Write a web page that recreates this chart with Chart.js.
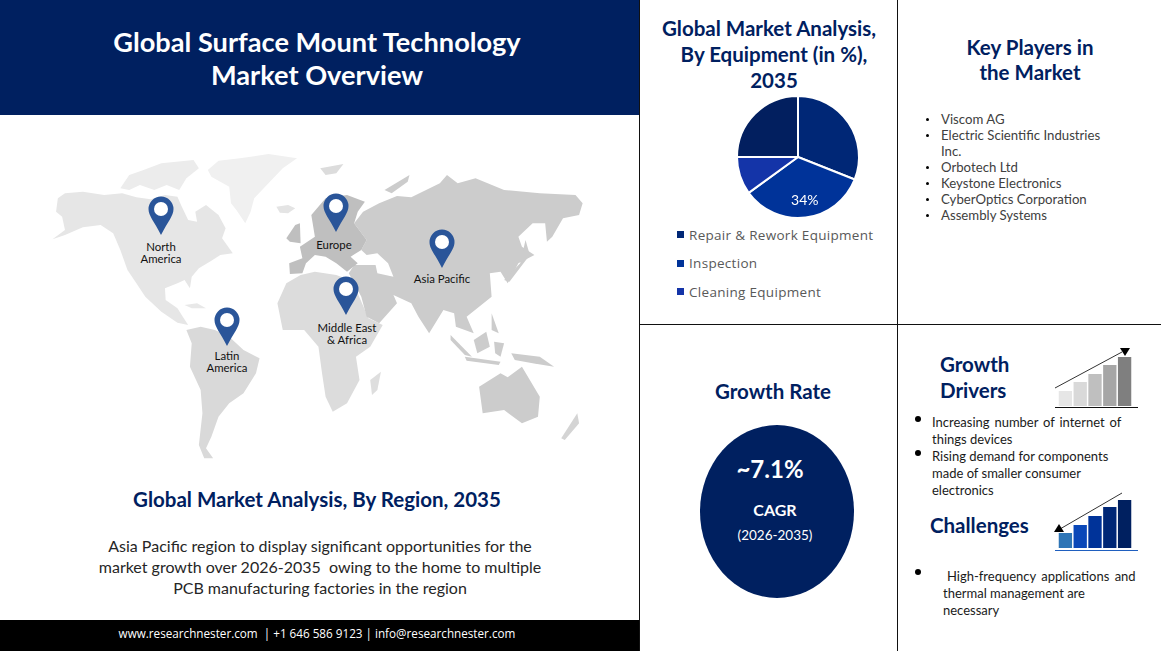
<!DOCTYPE html>
<html>
<head>
<meta charset="utf-8">
<script src="https://cdn.jsdelivr.net/npm/chart.js@4"></script>
<style>
html, body { margin: 0; padding: 0; background: #fff; }
#page { position: relative; width: 1161px; height: 651px; overflow: hidden; font-family: Lato, sans-serif; }
.box { position: absolute; }
.c, .l { position: absolute; white-space: pre; transform: translateY(-50%); margin-top: -1px; }
.c { transform: translate(-50%, -50%); text-align: center; }
.h { font-weight: 700; color: #002060; font-size: 20.5px; }
.city { font-size: 11.4px; line-height: 12px; color: #111; margin-top: 0; }
.player { font-size: 13.2px; color: #404040; margin-top: 0; }
.driver { font-size: 13px; color: #1a1a1a; margin-top: 0; }
.para { font-size: 16px; color: #262626; }
.dot { position: absolute; border-radius: 50%; background: #000; }
.sq { position: absolute; width: 7px; height: 7px; }
.leg { font-family: "Open Sans", sans-serif; font-size: 13.5px; color: #595959; letter-spacing: 0.3px; margin-top: 0; }
canvas { position: absolute; }
</style>
</head>
<body>
<div id="page">
  <div class="box" style="left:0;top:0;width:639px;height:115px;background:#002060"></div>
  <div class="box" style="left:0;top:620px;width:639px;height:31px;background:#000"></div>
  <div class="box" style="left:639px;top:0;width:1px;height:651px;background:#111"></div>
  <div class="box" style="left:897px;top:0;width:1px;height:651px;background:#111"></div>
  <div class="box" style="left:639px;top:324px;width:522px;height:1px;background:#111"></div>

  <div class="c" style="left:317px;top:42px;color:#fff;font-weight:700;font-size:27.2px">Global Surface Mount Technology</div>
  <div class="c" style="left:317px;top:75px;color:#fff;font-weight:700;font-size:27.2px">Market Overview</div>

  <svg class="box" style="left:0;top:0" width="640" height="480">
    <g transform="translate(40 140) scale(.357 .3333)">
      <polygon fill="#f0f0f0" points="470,90 500,62 560,55 640,42 720,55 680,85 640,130 600,175 590,215 575,250 550,210 535,190 530,140 480,110"/>
      <polygon fill="#ececec" points="225,145 250,105 290,90 340,70 430,60 445,85 410,115 390,150 355,135 320,150 280,135 250,150"/>
      <polygon fill="#e6e6e6" points="35,298 70,270 62,230 45,215 50,175 70,160 120,155 180,165 230,160 270,172 310,178 350,165 385,170 395,195 415,240 440,245 435,215 465,195 500,225 520,265 510,295 540,340 505,345 480,362 445,385 425,410 420,445 405,420 385,430 350,445 352,480 385,505 400,530 415,555 385,548 340,515 295,470 270,430 245,390 225,330 205,280 170,255 120,262 70,285"/>
      <polygon fill="#e4e4e4" points="662,200 695,195 715,205 695,220 672,218"/>
      <polygon fill="#dcdcdc" points="785,85 850,72 830,100 800,105"/>
      <polygon fill="#e8e8e8" points="405,495 440,490 465,505 425,505"/>
      <polygon fill="#d9d9d9" points="410,570 450,560 490,570 530,590 570,630 615,655 605,700 570,760 530,790 500,830 480,890 465,925 485,955 460,955 445,915 455,820 450,750 420,680 425,610"/>
      <polygon fill="#dcdcdc" points="665,490 690,430 730,405 770,395 830,405 880,425 890,460 920,535 960,555 925,620 885,650 895,720 860,790 820,815 800,770 790,700 780,620 740,570 680,570"/>
      <polygon fill="#dedede" points="925,720 955,695 945,750 930,765"/>
      <polygon fill="#cccccc" points="880,250 905,215 950,190 1000,168 1040,172 1120,130 1140,105 1170,130 1220,115 1300,150 1400,160 1500,165 1520,190 1510,225 1465,235 1435,290 1420,305 1415,250 1380,250 1340,290 1350,320 1385,345 1340,370 1310,430 1290,395 1260,400 1265,470 1230,500 1195,530 1215,580 1190,570 1165,560 1160,520 1130,510 1090,580 1060,530 1040,490 990,465 1000,490 950,550 915,530 900,470 880,430 865,400 880,375 940,375 945,400 990,410 975,370 945,340 915,345 900,330 915,300"/>
      <polygon fill="#bfbfbf" points="698,370 735,355 728,320 770,290 760,225 800,175 860,165 910,185 890,215 880,250 915,300 900,330 870,350 890,370 860,395 830,370 800,350 770,345 745,370 735,400 700,402"/>
      <polygon fill="#bfbfbf" points="690,295 715,255 728,250 730,310 700,305"/>
      <polygon fill="#cccccc" points="965,150 1035,105 1030,125 985,160"/>
      <polygon fill="#cccccc" points="1360,300 1372,345 1315,425 1300,420 1345,370"/>
      <polygon fill="#cccccc" points="1150,585 1210,650 1190,645 1150,600"/>
      <polygon fill="#cccccc" points="1215,600 1250,575 1260,620 1225,640"/>
      <polygon fill="#cccccc" points="1190,650 1290,665 1285,675 1195,662"/>
      <polygon fill="#cccccc" points="1265,520 1285,580 1265,570"/>
      <polygon fill="#cccccc" points="1272,605 1300,610 1290,650 1275,640"/>
      <polygon fill="#cccccc" points="1320,640 1400,650 1440,680 1380,670 1330,660"/>
      <polygon fill="#cccccc" points="1230,740 1290,700 1310,712 1350,680 1400,770 1395,830 1350,850 1300,810 1240,820"/>
      <polygon fill="#d4d4d4" points="1460,895 1505,820 1510,850 1470,900"/>
    </g>
    <defs>
      <g id="pin">
        <path fill="#2a5599" d="M0,0 C-7,-14 -12.5,-19 -12.5,-26 A12.5,12.5 0 1 1 12.5,-26 C12.5,-19 7,-14 0,0 Z"/>
        <circle cx="0" cy="-26" r="7" fill="#fff"/>
      </g>
    </defs>
    <use href="#pin" x="161" y="235"/>
    <use href="#pin" x="336" y="232"/>
    <use href="#pin" x="442" y="268"/>
    <use href="#pin" x="346" y="315"/>
    <use href="#pin" x="227" y="346"/>
  </svg>

  <div class="c city" style="left:161px;top:253px">North
America</div>
  <div class="c city" style="left:334px;top:245px">Europe</div>
  <div class="c city" style="left:442px;top:279px">Asia Pacific</div>
  <div class="c city" style="left:347px;top:334px">Middle East
&amp; Africa</div>
  <div class="c city" style="left:227px;top:362px">Latin
America</div>

  <div class="c h" style="left:317px;top:500px">Global Market Analysis, By Region, 2035</div>
  <div class="c para" style="left:320px;top:546px">Asia Pacific region to display significant opportunities for the</div>
  <div class="c para" style="left:320px;top:567px">market growth over 2026-2035  owing to the home to multiple</div>
  <div class="c para" style="left:320px;top:588px">PCB manufacturing factories in the region</div>
  <div class="c" style="left:317px;top:634px;font-family:'Open Sans',sans-serif;font-size:11.7px;color:#fff">www.researchnester.com  | +1 646 586 9123 | info@researchnester.com</div>

  <div class="c h" style="left:769px;top:29px">Global Market Analysis,</div>
  <div class="c h" style="left:774px;top:55px">By Equipment (in %),</div>
  <div class="c h" style="left:774px;top:81px">2035</div>
  <canvas id="equipmentPie" width="130" height="130" style="left:733px;top:92px"></canvas>

  <div class="sq" style="left:677px;top:231px;background:#002776"></div>
  <div class="c leg" style="left:689px;top:235px;transform:translateY(-50%)">Repair &amp; Rework Equipment</div>
  <div class="sq" style="left:677px;top:260px;background:#003399"></div>
  <div class="c leg" style="left:689px;top:263px;transform:translateY(-50%)">Inspection</div>
  <div class="sq" style="left:677px;top:288px;background:#1434a8"></div>
  <div class="c leg" style="left:689px;top:292px;transform:translateY(-50%)">Cleaning Equipment</div>

  <div class="c h" style="left:1030px;top:48px">Key Players in</div>
  <div class="c h" style="left:1030px;top:73px">the Market</div>
  <div class="dot" style="left:926px;top:118px;width:3px;height:3px"></div>
  <div class="l player" style="left:941px;top:119px">Viscom AG</div>
  <div class="dot" style="left:926px;top:134px;width:3px;height:3px"></div>
  <div class="l player" style="left:941px;top:135px">Electric Scientific Industries</div>
  <div class="l player" style="left:941px;top:151px">Inc.</div>
  <div class="dot" style="left:926px;top:166px;width:3px;height:3px"></div>
  <div class="l player" style="left:941px;top:167px">Orbotech Ltd</div>
  <div class="dot" style="left:926px;top:182px;width:3px;height:3px"></div>
  <div class="l player" style="left:941px;top:183px">Keystone Electronics</div>
  <div class="dot" style="left:926px;top:198px;width:3px;height:3px"></div>
  <div class="l player" style="left:941px;top:199px">CyberOptics Corporation</div>
  <div class="dot" style="left:926px;top:214px;width:3px;height:3px"></div>
  <div class="l player" style="left:941px;top:215px">Assembly Systems</div>

  <div class="c h" style="left:773px;top:392px">Growth Rate</div>
  <div class="box" style="left:700px;top:425px;width:154px;height:173px;border-radius:50%;background:#002060"></div>
  <div class="c" style="left:770px;top:469px;color:#fff;font-weight:700;font-size:24px">~7.1%</div>
  <div class="c" style="left:775px;top:510px;color:#fff;font-weight:700;font-size:16px">CAGR</div>
  <div class="c" style="left:775px;top:536px;color:#fff;font-size:13.5px">(2026-2035)</div>

  <div class="l h" style="left:940px;top:365px">Growth</div>
  <div class="l h" style="left:940px;top:391px">Drivers</div>
  <canvas id="growthBars" width="74" height="49" style="left:1058px;top:357px"></canvas>
  <div class="box" style="left:1055px;top:407px;width:83px;height:1px;background:#111"></div>
  <svg class="box" style="left:1050px;top:345px" width="90" height="50">
    <line x1="5" y1="43" x2="72" y2="7" stroke="#333" stroke-width="1"/>
    <polygon points="70,3 80,3 75,11" fill="#000"/>
  </svg>
  <div class="dot" style="left:915px;top:416px;width:6px;height:6px"></div>
  <div class="l driver" style="left:932px;top:422px;word-spacing:1.5px">Increasing number of internet of</div>
  <div class="l driver" style="left:932px;top:439px">things devices</div>
  <div class="dot" style="left:915px;top:450px;width:6px;height:6px"></div>
  <div class="l driver" style="left:932px;top:456px">Rising demand for components</div>
  <div class="l driver" style="left:932px;top:473px">made of smaller consumer</div>
  <div class="l driver" style="left:932px;top:490px">electronics</div>

  <div class="l h" style="left:930px;top:526px">Challenges</div>
  <canvas id="challengeBars" width="74" height="48" style="left:1058px;top:500px"></canvas>
  <div class="box" style="left:1055px;top:550px;width:83px;height:1px;background:#1f5fbf"></div>
  <svg class="box" style="left:1050px;top:488px" width="90" height="50">
    <line x1="72" y1="5" x2="10" y2="41" stroke="#333" stroke-width="1"/>
    <polygon points="4,44 14,44 9,36" fill="#000"/>
  </svg>
  <div class="dot" style="left:915px;top:569px;width:6px;height:6px"></div>
  <div class="l driver" style="left:947px;top:576px;word-spacing:2px">High-frequency applications and</div>
  <div class="l driver" style="left:943px;top:593px">thermal management are</div>
  <div class="l driver" style="left:943px;top:610px">necessary</div>
</div>

<script>
const pieLabels = ['Repair & Rework Equipment', 'Inspection', 'Cleaning Equipment', 'Other'];
const pieValues = [31, 34, 10, 25];
const pieColors = ['#002776', '#003399', '#1434a8', '#021f5f'];
const pieShownLabel = 1; // only the 34% slice carries a label

const barLabels = ['1', '2', '3', '4', '5'];
const growthValues = [15, 24, 32, 41, 49];
const growthColors = ['#e6e6e6', '#d9d9d9', '#bfbfbf', '#a6a6a6', '#7f7f7f'];
const challengeValues = [15, 23, 32, 41, 48];
const challengeColors = ['#2e75b6', '#0a47b8', '#003399', '#002776', '#002060'];

// draws the % text on one slice, chart.js has no datalabels built in
const sliceLabel = {
    id: 'sliceLabel',
    afterDatasetsDraw(chart) {
        const arc = chart.getDatasetMeta(0).data[pieShownLabel];
        const pos = arc.getCenterPoint();
        const ctx = chart.ctx;
        ctx.save();
        ctx.fillStyle = '#fff';
        ctx.font = '14px Lato, sans-serif';
        ctx.textAlign = 'center';
        ctx.textBaseline = 'middle';
        ctx.fillText(pieValues[pieShownLabel] + '%', pos.x + 3, pos.y + 13);
        ctx.restore();
    }
};

new Chart(document.getElementById('equipmentPie').getContext('2d'), {
    type: 'pie',
    data: {
        labels: pieLabels,
        datasets: [{
            data: pieValues,
            backgroundColor: pieColors,
            borderColor: '#fff',
            borderWidth: 2
        }]
    },
    options: {
        responsive: false,
        animation: false,
        radius: 61,
        plugins: {
            legend: { display: false },
            tooltip: { enabled: false }
        }
    },
    plugins: [sliceLabel]
});

function renderIconBars(canvasId, values, colors) {
    new Chart(document.getElementById(canvasId).getContext('2d'), {
        type: 'bar',
        data: {
            labels: barLabels,
            datasets: [{
                data: values,
                backgroundColor: colors,
                barPercentage: 0.9,
                categoryPercentage: 1
            }]
        },
        options: {
            responsive: false,
            animation: false,
            plugins: {
                legend: { display: false },
                tooltip: { enabled: false }
            },
            scales: {
                x: { display: false },
                y: { display: false, min: 0, max: Math.max(...values) }
            }
        }
    });
}

renderIconBars('growthBars', growthValues, growthColors);
renderIconBars('challengeBars', challengeValues, challengeColors);
</script>
</body>
</html>
